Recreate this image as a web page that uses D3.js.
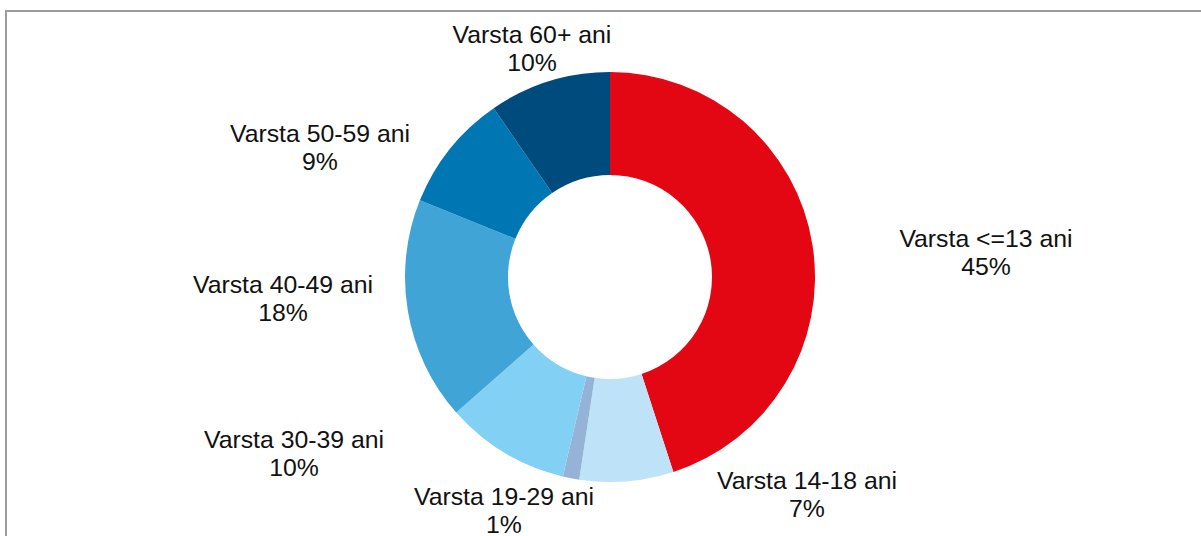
<!DOCTYPE html>
<html>
<head>
<meta charset="utf-8">
<script src="https://cdn.jsdelivr.net/npm/d3@7"></script>
<style>
  html, body { margin: 0; padding: 0; background: #fff; }
  svg { display: block; }
</style>
</head>
<body>
<svg id="chart" width="1201" height="536"></svg>
<script>
// Age-group donut

const categories = [
  "Varsta <=13 ani",
  "Varsta 14-18 ani",
  "Varsta 19-29 ani",
  "Varsta 30-39 ani",
  "Varsta 40-49 ani",
  "Varsta 50-59 ani",
  "Varsta 60+ ani",
];
const values = [45.0, 7.4, 1.3, 9.8, 17.6, 9.3, 9.6];
const colors = ["#e30613", "#bee3f8", "#95b3d7", "#83d0f5", "#41a4d7", "#0077b3", "#004b7d"];

// label anchor points (centre of the two-line label, first baseline)
const labelPos = [
  [986, 247],
  [807, 489],
  [504, 505],
  [294, 448],
  [283, 293],
  [320, 142],
  [532, 43],
];

const svg = d3.select("#chart");
const cx = 610;
const cy = 277;
const outerR = 205;
const innerR = 102;

// frame
svg.append("rect")
  .attr("x", 6)
  .attr("y", 11)
  .attr("width", 1220)
  .attr("height", 600)
  .attr("fill", "none")
  .attr("stroke", "#9c9c9c")
  .attr("stroke-width", 2);

const pie = d3.pie().sort(null).value((d) => d);
const arc = d3.arc().innerRadius(innerR).outerRadius(outerR);

const g = svg.append("g").attr("transform", `translate(${cx},${cy})`);

g.selectAll("path")
  .data(pie(values))
  .join("path")
  .attr("d", arc)
  .attr("fill", (d, i) => colors[i]);

const labels = svg.append("g")
  .attr("font-family", "Liberation Sans, Arial, sans-serif")
  .attr("font-size", 24.8)
  .attr("fill", "#111")
  .attr("text-anchor", "middle");

categories.forEach((c, i) => {
  const [x, y] = labelPos[i];
  const t = labels.append("text").attr("x", x).attr("y", y);
  t.append("tspan").attr("x", x).text(c);
  t.append("tspan").attr("x", x).attr("dy", 27.5).text(Math.round(values[i]) + "%");
});
</script>
</body>
</html>
